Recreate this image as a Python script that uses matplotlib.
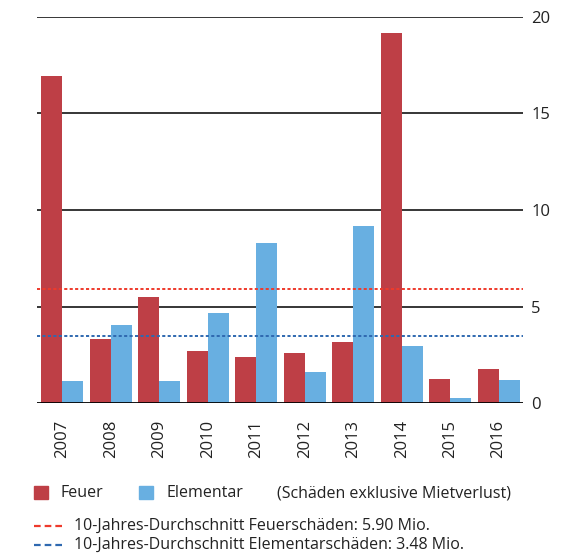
import numpy as np
import matplotlib
matplotlib.use("Agg")
import matplotlib.pyplot as plt
from matplotlib.patches import Rectangle
from matplotlib.lines import Line2D

plt.rcParams['font.family'] = ['Open Sans', 'DejaVu Sans']

# Schadenssummen in Mio.
years = ['2007', '2008', '2009', '2010', '2011', '2012', '2013', '2014', '2015', '2016']
feuer = [16.93, 3.34, 5.52, 2.72, 2.40, 2.61, 3.18, 19.16, 1.26, 1.78]
elementar = [1.16, 4.07, 1.16, 4.69, 8.32, 1.63, 9.15, 2.98, 0.28, 1.21]
avg_feuer = 5.90
avg_elementar = 3.48
yticks = [0, 5, 10, 15, 20]

red = '#BE3F46'
blue = '#68AFE1'
red_dash = '#EE3A2C'
blue_dash = '#2F69B0'

fig = plt.figure(figsize=(5.79, 5.59), dpi=100)
ax = fig.add_axes([0.064, 0.2785, 0.839, 0.6915])

x = np.arange(len(years))
w = 0.435
ax.bar(x - w / 2, feuer, w, color=red, zorder=2)
ax.bar(x + w / 2, elementar, w, color=blue, zorder=2)

# gridlines
for t in yticks[1:]:
    ax.axhline(t, color='black', lw=1.1, zorder=1)
ax.axhline(0, color='black', lw=2, zorder=3)

# averages
ax.axhline(avg_feuer, color=red_dash, lw=1.4, ls=(0, (1.6, 1.2)), zorder=4)
ax.axhline(avg_elementar, color=blue_dash, lw=1.4, ls=(0, (1.6, 1.2)), zorder=4)

ax.set_xlim(-0.52, 9.5)
ax.set_ylim(0, 20)
ax.set_yticks(yticks)
ax.yaxis.tick_right()
ax.tick_params(axis='y', length=0, pad=6, labelsize=12, labelcolor='#222222')
ax.set_xticks(x)
ax.set_xticklabels(years, rotation=90, fontsize=12, color='#222222')
ax.tick_params(axis='x', length=0, pad=12)
for s in ax.spines.values():
    s.set_visible(False)

# legend
fs = 11.5
fig.patches.append(Rectangle((34 / 579, 1 - 499 / 559), 14 / 579, 13 / 559,
                             transform=fig.transFigure, color=red))
fig.text(61 / 579, 1 - 493 / 559, 'Feuer', fontsize=fs, va='center', color='#222222')
fig.patches.append(Rectangle((139 / 579, 1 - 499 / 559), 14 / 579, 13 / 559,
                             transform=fig.transFigure, color=blue))
fig.text(166 / 579, 1 - 493 / 559, 'Elementar', fontsize=fs, va='center', color='#222222')
fig.text(277 / 579, 1 - 493 / 559, '(Schäden exklusive Mietverlust)', fontsize=fs,
         va='center', color='#222222')

for yy, c, label in [(526, red_dash, f'10-Jahres-Durchschnitt Feuerschäden: {avg_feuer:.2f} Mio.'),
                     (545, blue_dash, f'10-Jahres-Durchschnitt Elementarschäden: {avg_elementar:.2f} Mio.')]:
    fig.lines.append(Line2D([34 / 579, 65 / 579], [1 - yy / 559] * 2, transform=fig.transFigure,
                            color=c, lw=1.6, ls=(0, (3, 1.8))))
    fig.text(74 / 579, 1 - yy / 559, label, fontsize=fs, va='center', color='#222222')

fig.savefig('out.png', dpi=100)
